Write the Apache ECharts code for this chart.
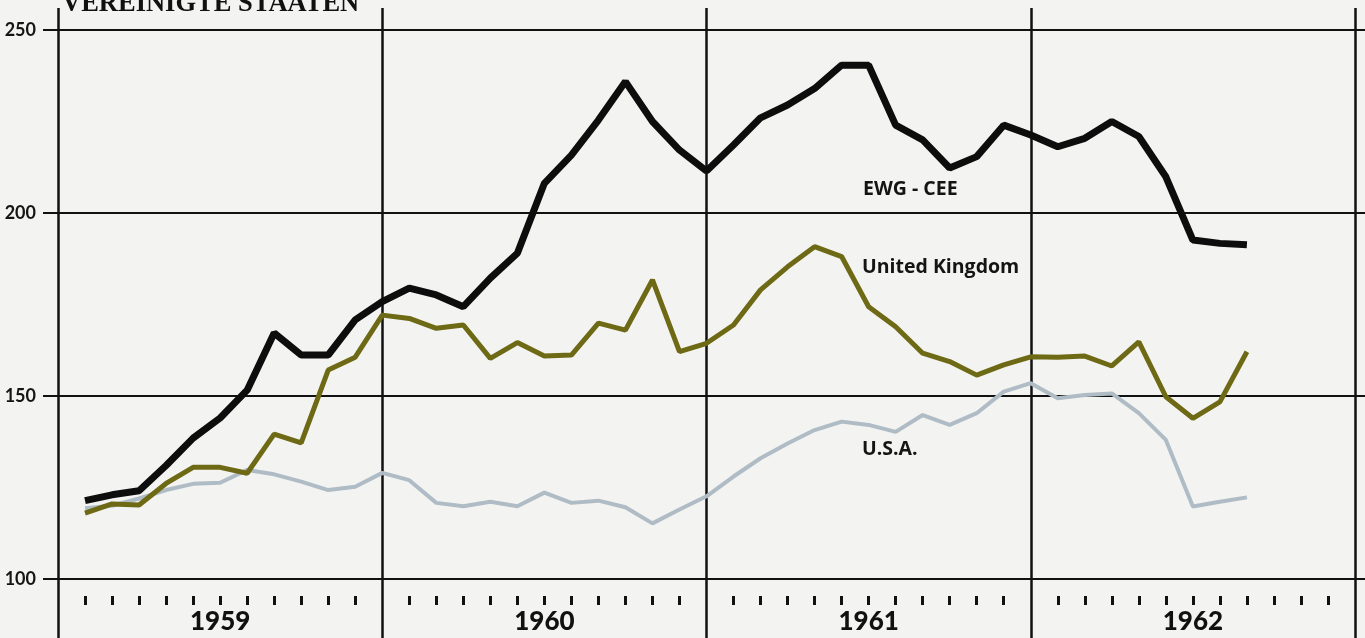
<!DOCTYPE html>
<html>
<head>
<meta charset="utf-8">
<script src="https://cdn.jsdelivr.net/npm/echarts@6/dist/echarts.min.js"></script>
<style>
html,body{margin:0;padding:0;background:#f3f3f1;}
#c{width:1365px;height:638px;}
</style>
</head>
<body>
<div id="c"></div>
<script>
// Month index k = months since start of 1959 (points at month ends, k = 1..44)
const months = [1,2,3,4,5,6,7,8,9,10,11,12,13,14,15,16,17,18,19,20,21,22,23,24,25,26,27,28,29,30,31,32,33,34,35,36,37,38,39,40,41,42,43,44];
const years = ['1959', '1960', '1961', '1962'];
const yTicks = [100, 150, 200, 250];
const ewg = [121.4,123,124.1,131,138.5,144,151.6,167.2,161.2,161.2,170.8,175.8,179.5,177.6,174.4,182.2,189,208.1,215.8,225.4,235.9,225,217.2,211.5,218.6,226,229.5,234,240.4,240.4,224,220,212.3,215.4,224,221.3,218.1,220.4,225,220.9,209.9,192.6,191.7,191.3];
const uk = [118,120.5,120.2,126.1,130.5,130.5,128.9,139.6,137.2,157.1,160.6,172.1,171.2,168.5,169.4,160.3,164.6,160.9,161.2,169.9,168,181.7,162.1,164.4,169.4,179,185.3,190.8,188.1,174.4,168.9,161.7,159.4,155.7,158.5,160.7,160.6,160.9,158.2,164.8,149.8,143.9,148.4,162.1];
const usa = [119.3,120,122,124.3,126,126.3,129.8,128.6,126.6,124.3,125.2,129,127,120.8,119.9,121.1,119.9,123.6,120.8,121.4,119.6,115.2,119,122.6,128,133,137,140.7,143,142.1,140.2,144.8,142.1,145.3,151.2,153.5,149.4,150.3,150.7,145.3,138,119.8,121.1,122.3];
const seriesNames = ['EWG - CEE', 'United Kingdom', 'U.S.A.'];
const title = 'VEREINIGTE STAATEN';

const pair = arr => months.map((m, i) => [m, arr[i]]);

const chart = echarts.init(document.getElementById('c'));
const labelFont = {fontFamily: 'Open Sans', fontWeight: 'bold', fontSize: 19.5, fill: '#141414'};
chart.setOption({
  backgroundColor: '#f3f3f1',
  animation: false,
  grid: [
    {left: 58, right: 10, top: 8, bottom: 0},   // vertical year lines
    {left: 43, right: 0, top: 30, bottom: 59},  // horizontal value lines
    {left: 58, right: 10, top: 30, bottom: 59}  // data
  ],
  xAxis: [
    {gridIndex: 0, type: 'value', min: 0, max: 48, interval: 12,
      axisLine: {show: false}, axisTick: {show: false}, axisLabel: {show: false},
      splitLine: {show: true, lineStyle: {color: '#111', width: 2.5}}},
    {gridIndex: 1, type: 'value', min: 0, max: 48, show: false},
    {gridIndex: 2, type: 'value', min: 0, max: 48, interval: 12, position: 'bottom', offset: 17,
      axisLine: {show: false}, axisTick: {show: false}, axisLabel: {show: false}, splitLine: {show: false},
      minorTick: {show: true, splitNumber: 12, length: 9, lineStyle: {color: '#111', width: 3}}},
    {gridIndex: 2, type: 'category', data: years, boundaryGap: true, position: 'bottom', offset: 17,
      axisLine: {show: false}, axisTick: {show: false}, splitLine: {show: false},
      axisLabel: {show: true, margin: 13, fontFamily: 'Lato', fontWeight: 900, fontSize: 26, color: '#111'}}
  ],
  yAxis: [
    {gridIndex: 0, type: 'value', min: 0, max: 1, show: false},
    {gridIndex: 1, type: 'value', min: yTicks[0], max: yTicks[yTicks.length - 1], interval: 50,
      axisLine: {show: false}, axisTick: {show: false},
      axisLabel: {show: true, margin: 7, fontFamily: 'Lato', fontWeight: 'bold', fontSize: 18, color: '#151515'},
      splitLine: {show: true, lineStyle: {color: '#111', width: 2}}},
    {gridIndex: 2, type: 'value', min: yTicks[0], max: yTicks[yTicks.length - 1], show: false}
  ],
  series: [
    {name: seriesNames[2], type: 'line', xAxisIndex: 2, yAxisIndex: 2, data: pair(usa),
      symbol: 'none', lineStyle: {color: '#b0bcc5', width: 4}, z: 3},
    {name: seriesNames[1], type: 'line', xAxisIndex: 2, yAxisIndex: 2, data: pair(uk),
      symbol: 'none', lineStyle: {color: '#6d6914', width: 5}, z: 4},
    {name: seriesNames[0], type: 'line', xAxisIndex: 2, yAxisIndex: 2, data: pair(ewg),
      symbol: 'none', lineStyle: {color: '#0d0d0d', width: 7}, z: 5}
  ],
  graphic: [
    {type: 'text', left: 62, top: -9, style: {text: title, fontFamily: 'Liberation Serif', fontWeight: 'bold', fontSize: 26.5, fill: '#111'}},
    {type: 'text', left: 863, top: 179, style: Object.assign({text: seriesNames[0]}, labelFont)},
    {type: 'text', left: 862, top: 257, style: Object.assign({text: seriesNames[1]}, labelFont)},
    {type: 'text', left: 862, top: 439, style: Object.assign({text: seriesNames[2]}, labelFont)}
  ]
});
</script>
</body>
</html>
